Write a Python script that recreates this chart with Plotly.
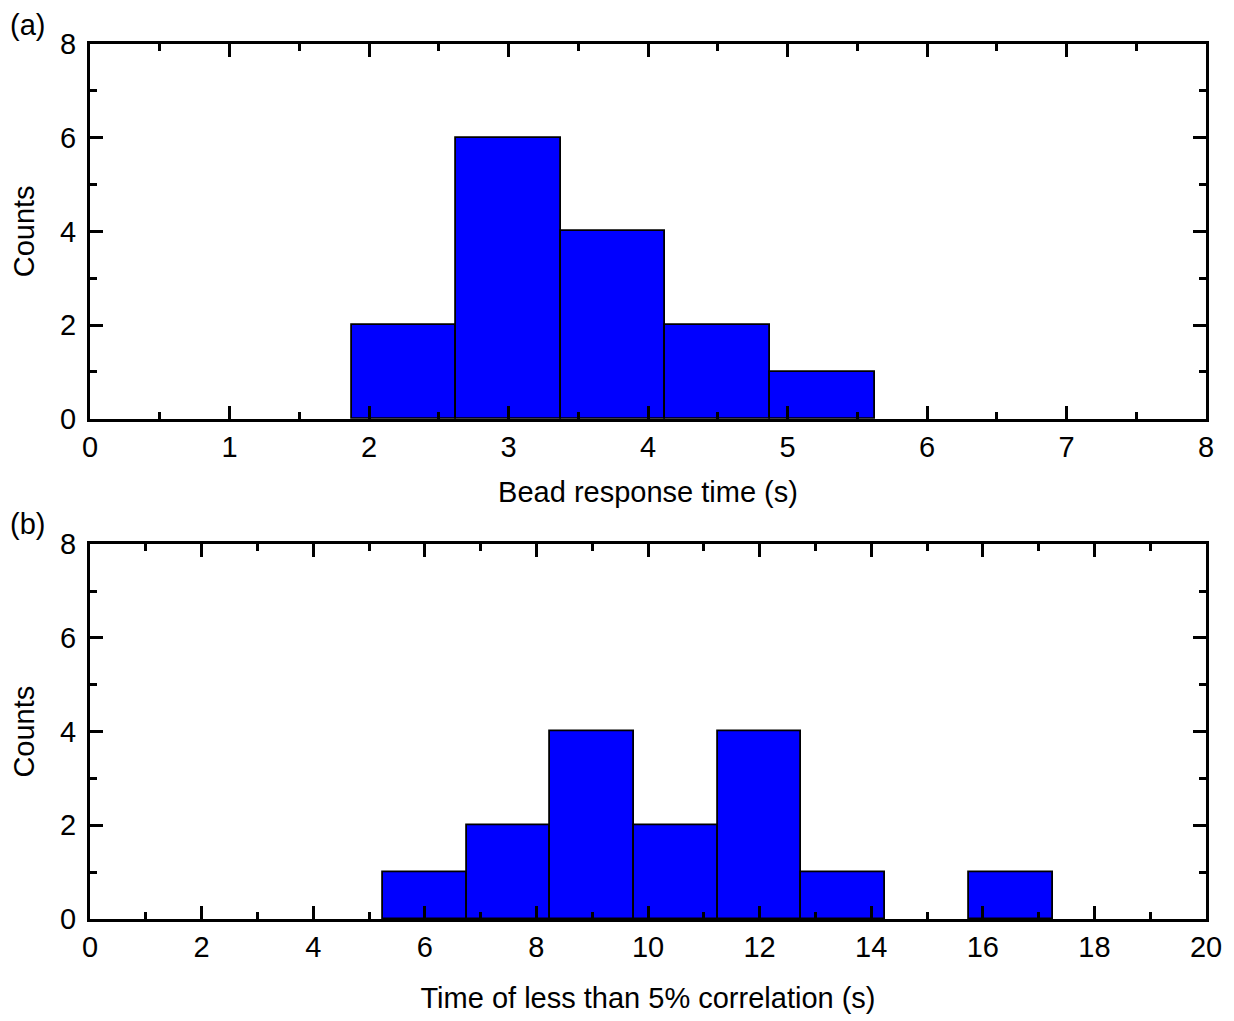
import plotly.graph_objects as go
from plotly.subplots import make_subplots

# panel (a): bead response time histogram
bead_centers = [2.25, 3.0, 3.75, 4.5, 5.25]
bead_counts = [2, 6, 4, 2, 1]
bead_width = 0.75

# panel (b): time of less than 5% correlation histogram
corr_centers = [6.0, 7.5, 9.0, 10.5, 12.0, 13.5, 16.5]
corr_counts = [1, 2, 4, 2, 4, 1, 1]
corr_width = 1.5

FONT = "Liberation Sans, Arial, sans-serif"
FS = 29

# page body has an 8px margin, so the figure is 8px smaller on each axis
fig = make_subplots(rows=2, cols=1, vertical_spacing=126 / 878)

fig.add_trace(go.Bar(
    x=bead_centers, y=bead_counts, width=bead_width,
    marker=dict(color="#0000FF", line=dict(color="black", width=1.8)),
    showlegend=False,
), row=1, col=1)

fig.add_trace(go.Bar(
    x=corr_centers, y=corr_counts, width=corr_width,
    marker=dict(color="#0000FF", line=dict(color="black", width=1.8)),
    showlegend=False,
), row=2, col=1)

axis_style = dict(
    showline=True, linecolor="black", linewidth=3,
    mirror="ticks", ticks="inside", ticklen=13, tickwidth=2.5, tickcolor="black",
    showgrid=False, zeroline=False, layer="above traces",
    tickfont=dict(family=FONT, size=FS, color="black"),
)
minor_style = dict(ticks="inside", ticklen=7, tickwidth=2.5, tickcolor="black")

fig.update_xaxes(**axis_style)
fig.update_yaxes(**axis_style)

fig.update_xaxes(range=[0, 8], dtick=1, tick0=0,
                 minor=dict(dtick=0.5, **minor_style),
                 title=dict(text="Bead response time (s)", font=dict(family=FONT, size=FS, color="black"),
                            standoff=21),
                 row=1, col=1)
fig.update_xaxes(range=[0, 20], dtick=2, tick0=0,
                 minor=dict(dtick=1, **minor_style),
                 title=dict(text="Time of less than 5% correlation (s)", font=dict(family=FONT, size=FS, color="black"),
                            standoff=26),
                 row=2, col=1)

for r in [1, 2]:
    fig.update_yaxes(range=[0, 8], dtick=2, tick0=0, ticklabelstandoff=5,
                     minor=dict(dtick=1, **minor_style),
                     title=dict(text="Counts", font=dict(family=FONT, size=FS, color="black"), standoff=20),
                     row=r, col=1)

for label, ypos, shift in [("(a)", 1.0, 19), ("(b)", 376 / 878, 20)]:
    fig.add_annotation(text=label, xref="paper", yref="paper", x=-0.056, y=ypos,
                       xanchor="center", yanchor="middle", showarrow=False, yshift=shift,
                       font=dict(family=FONT, size=FS, color="black"))

fig.update_layout(
    width=1226, height=1013,
    margin=dict(l=82, r=27, t=36, b=99),
    plot_bgcolor="white", paper_bgcolor="white",
    bargap=0,
)

fig.write_html("out.html")
